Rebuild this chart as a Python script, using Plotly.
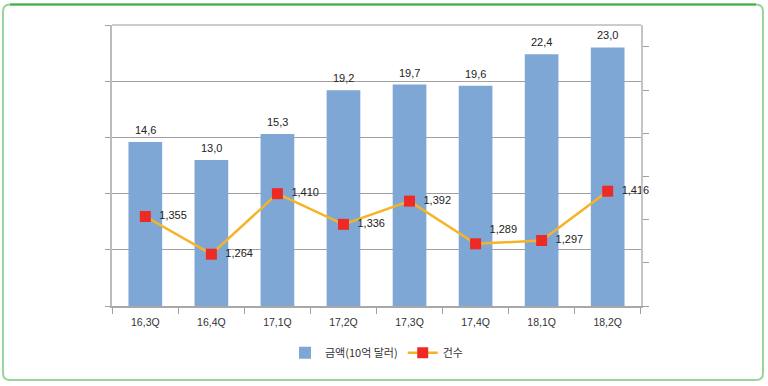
import plotly.graph_objects as go

quarters = ["16,3Q", "16,4Q", "17,1Q", "17,2Q", "17,3Q", "17,4Q", "18,1Q", "18,2Q"]
amounts = [14.6, 13.0, 15.3, 19.2, 19.7, 19.6, 22.4, 23.0]
amount_labels = ["14,6", "13,0", "15,3", "19,2", "19,7", "19,6", "22,4", "23,0"]
counts = [1355, 1264, 1410, 1336, 1392, 1289, 1297, 1416]
count_labels = ["1,355", "1,264", "1,410", "1,336", "1,392", "1,289", "1,297", "1,416"]
count_label_pos = ["middle right", "middle right", "middle right", "middle right",
                   "middle right", "top right", "middle right", "middle right"]

W, H = 768, 386
ML, MR, MT, MB = 112, 127, 25, 80
pw, ph = W - ML - MR, H - MT - MB

num_font = dict(family="Liberation Sans, Arial, sans-serif", size=11, color="#222222")

fig = go.Figure()
fig.add_trace(go.Bar(
    x=quarters, y=amounts, name="금액(10억 달러)",
    marker=dict(color="#7ea7d6", line=dict(width=0)),
))
for q, a, lab in zip(quarters, amounts, amount_labels):
    fig.add_annotation(x=q, y=a, text=lab, showarrow=False, yanchor="middle",
                       yshift=12, font=num_font)
fig.add_trace(go.Scatter(
    x=quarters, y=counts, name="건수", yaxis="y2",
    mode="lines+markers+text", text=["  " + t for t in count_labels],
    textposition=count_label_pos,
    textfont=num_font,
    line=dict(color="#f5b428", width=2.5),
    marker=dict(symbol="square", size=11, color="#ee2a24"),
    cliponaxis=False,
))

def px2paper_x(px):
    return (px - ML) / pw

def px2paper_y(py):
    return (H - MB - py) / ph

# rounded green frame
x0, x1 = px2paper_x(3), px2paper_x(763)
y0, y1 = px2paper_y(380), px2paper_y(4.5)
rx, ry = 7 / pw, 7 / ph
path = (f"M {x0+rx},{y1} L {x1-rx},{y1} Q {x1},{y1} {x1},{y1-ry} "
        f"L {x1},{y0+ry} Q {x1},{y0} {x1-rx},{y0} L {x0+rx},{y0} "
        f"Q {x0},{y0} {x0},{y0+ry} L {x0},{y1-ry} Q {x0},{y1} {x0+rx},{y1} Z")
fig.add_shape(type="path", path=path, xref="paper", yref="paper",
              line=dict(color="#9ad49b", width=2), layer="below")
fig.add_shape(type="line", x0=x0 + rx, x1=x1 - rx, y0=y1, y1=y1, xref="paper", yref="paper",
              line=dict(color="#3db046", width=2), layer="below")

fig.update_layout(
    width=W, height=H,
    margin=dict(l=ML, r=MR, t=MT, b=MB),
    paper_bgcolor="white", plot_bgcolor="white",
    bargap=0.49,
    showlegend=True,
    legend=dict(orientation="h", x=0.5, xanchor="center", y=-0.115, yanchor="top",
                font=dict(family="Noto Sans CJK KR, sans-serif", size=11, color="#333333"),
                itemwidth=30, tracegroupgap=0),
    xaxis=dict(
        type="category", tickson="boundaries", ticks="outside", ticklen=6,
        tickcolor="#a0a0a0", tickwidth=1, ticklabelstandoff=5,
        showline=True, linecolor="#a8a8a8", linewidth=2, mirror=False,
        tickfont=dict(family="Liberation Sans, Arial, sans-serif", size=10.5, color="#333333"),
        showgrid=False, fixedrange=True,
    ),
    yaxis=dict(
        range=[0, 25], dtick=5, showticklabels=False, ticks="outside", ticklen=5,
        tickcolor="#a0a0a0", showgrid=True, gridcolor="#a0a0a0", gridwidth=1,
        showline=True, linecolor="#bcbcbc", linewidth=2, zeroline=False,
    ),
    yaxis2=dict(
        overlaying="y", side="right", range=[1139, 1817], tick0=1139, dtick=104.2,
        showticklabels=False, ticks="outside", ticklen=6, tickcolor="#a0a0a0",
        showgrid=False, showline=True, linecolor="#c4c4c4", linewidth=2, zeroline=False,
    ),
)
# top frame line
fig.add_shape(type="line", x0=0, x1=1, y0=1, y1=1, xref="paper", yref="paper",
              line=dict(color="#cccccc", width=2))

fig.write_html("out.html", config={"displayModeBar": False},
               post_script="document.body.style.margin='0';document.body.style.overflow='hidden';")
